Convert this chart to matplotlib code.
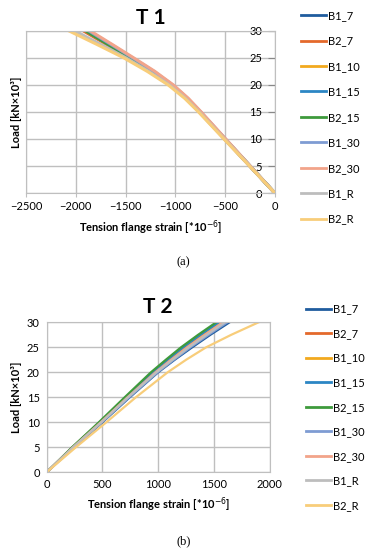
import matplotlib.pyplot as plt

plt.rcParams['font.family'] = ['Lato', 'DejaVu Sans']

names = ['B1_7', 'B2_7', 'B1_10', 'B1_15', 'B2_15', 'B1_30', 'B2_30', 'B1_R', 'B2_R']
colors = ['#1F5C9E', '#E4692B', '#F2A91E', '#2C86C4', '#3E9A3C',
          '#7E9CD3', '#F2A48A', '#BDBDBD', '#F8CD7A']

# T1: load [kN x 10^3] vs tension flange strain (negative)
load1 = [0, 5, 10, 15, 17.5, 20, 22.5, 25, 27.5, 30]
t1 = {
    'B1_7':  [0, -250, -500, -750, -880, -1035, -1225, -1440, -1660, -1885],
    'B2_7':  [0, -252, -505, -757, -890, -1048, -1243, -1465, -1692, -1925],
    'B1_10': [0, -250, -502, -752, -884, -1040, -1233, -1452, -1675, -1900],
    'B1_15': [0, -249, -500, -750, -882, -1038, -1230, -1448, -1670, -1895],
    'B2_15': [0, -250, -502, -752, -885, -1042, -1236, -1455, -1677, -1900],
    'B1_30': [0, -248, -497, -745, -875, -1028, -1215, -1430, -1648, -1870],
    'B2_30': [0, -246, -493, -740, -868, -1020, -1205, -1418, -1635, -1855],
    'B1_R':  [0, -252, -507, -760, -896, -1060, -1265, -1495, -1750, -2010],
    'B2_R':  [0, -254, -512, -767, -905, -1072, -1282, -1518, -1790, -2070],
}

# T2
load2 = [0, 5, 10, 15, 20, 22.5, 25, 27.5, 30]
t2 = {
    'B1_7':  [0, 245, 500, 745, 1000, 1148, 1305, 1468, 1640],
    'B2_7':  [0, 235, 480, 715, 960, 1095, 1235, 1392, 1560],
    'B1_10': [0, 232, 478, 712, 955, 1090, 1230, 1388, 1555],
    'B1_15': [0, 232, 476, 710, 950, 1085, 1225, 1380, 1545],
    'B2_15': [0, 228, 468, 700, 935, 1068, 1205, 1358, 1520],
    'B1_30': [0, 240, 495, 740, 995, 1140, 1290, 1452, 1620],
    'B2_30': [0, 236, 485, 725, 975, 1115, 1260, 1418, 1580],
    'B1_R':  [0, 238, 490, 730, 985, 1128, 1275, 1435, 1600],
    'B2_R':  [0, 262, 535, 800, 1085, 1250, 1430, 1655, 1900],
}

grid_c = '#BFBFBF'
fs = 8
lfs = 8

fig = plt.figure(figsize=(3.67, 5.5), dpi=100)

# ---- T1 ----
ax1 = fig.add_axes([0.0708, 0.649, 0.678, 0.295])
for n, c in zip(names, colors):
    ax1.plot(t1[n], load1, color=c, lw=2.2, label=n)
ax1.set_xlim(-2500, 0)
ax1.set_ylim(0, 30)
ax1.set_xticks(range(-2500, 1, 500))
ax1.set_yticks(range(0, 31, 5))
ax1.grid(True, color=grid_c, lw=1)
for s in ax1.spines.values():
    s.set_color(grid_c)
ax1.yaxis.tick_right()
ax1.tick_params(axis='y', direction='in', length=5, color='#888888', pad=-9, labelsize=fs)
ax1.tick_params(axis='x', direction='out', length=3, color=grid_c, labelsize=fs, pad=3)
for tl in ax1.get_yticklabels():
    tl.set_horizontalalignment('right')
ax1.set_title('T 1', fontsize=15, fontweight='bold', pad=5)
ax1.set_xlabel('Tension flange strain [*10$^{-6}$]', fontsize=fs, fontweight='bold', labelpad=4)
ax1.set_ylabel('Load [kN×10³]', fontsize=fs, fontweight='bold', labelpad=3)
leg1 = ax1.legend(loc='upper left', bbox_to_anchor=(0.808, 0.99), bbox_transform=fig.transFigure,
                  frameon=False, fontsize=lfs, handlelength=2.25, handletextpad=0.15,
                  labelspacing=1.3, borderaxespad=0)
for ln in leg1.get_lines():
    ln.set_linewidth(2)
fig.text(0.5, 1 - 262 / 550, '(a)', ha='center', va='center', fontsize=9,
         family='Liberation Serif')

# ---- T2 ----
ax2 = fig.add_axes([0.127, 0.1413, 0.608, 0.2727])
for n, c in zip(names, colors):
    ax2.plot(t2[n], load2, color=c, lw=1.6, label=n)
ax2.set_xlim(0, 2000)
ax2.set_ylim(0, 30)
ax2.set_xticks(range(0, 2001, 500))
ax2.set_yticks(range(0, 31, 5))
ax2.grid(True, color=grid_c, lw=1)
for s in ax2.spines.values():
    s.set_color(grid_c)
ax2.tick_params(length=0, labelsize=fs, pad=5)
ax2.set_title('T 2', fontsize=15, fontweight='bold', pad=7)
ax2.set_xlabel('Tension flange strain [*10$^{-6}$]', fontsize=fs, fontweight='bold', labelpad=4)
ax2.set_ylabel('Load [kN×10³]', fontsize=fs, fontweight='bold', labelpad=3)
leg2 = ax2.legend(loc='upper left', bbox_to_anchor=(0.822, 1 - 299 / 550), bbox_transform=fig.transFigure,
                  frameon=False, fontsize=lfs, handlelength=2.25, handletextpad=0.15,
                  labelspacing=1.22, borderaxespad=0)
for ln in leg2.get_lines():
    ln.set_linewidth(2)
fig.text(0.5, 1 - 541 / 550, '(b)', ha='center', va='center', fontsize=9,
         family='Liberation Serif')

fig.savefig('out.png', dpi=100)
